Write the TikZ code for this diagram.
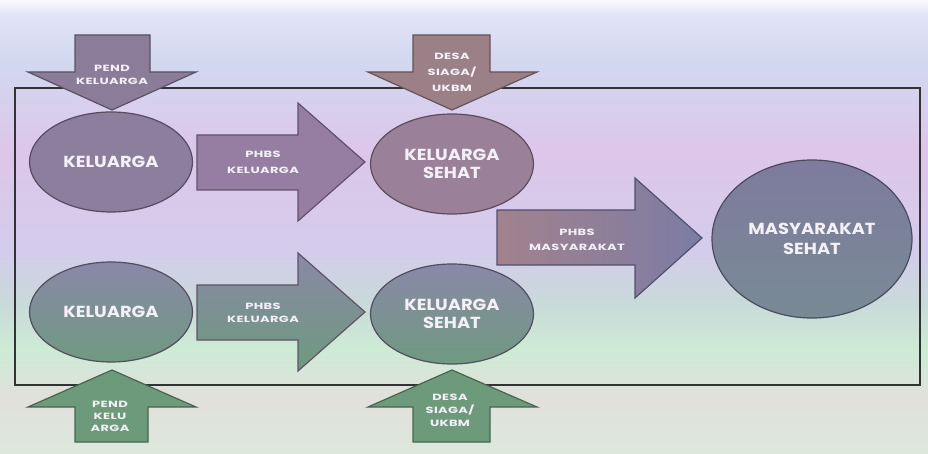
\documentclass[tikz,border=0pt]{standalone}
\usepackage{fontspec}
\setmainfont{Poppins}
\newfontfamily\labfont{Poppins}[FakeStretch=1.45, LetterSpace=4]
\newfontfamily\ellfont{Poppins}[FakeStretch=1.12]
\usetikzlibrary{shapes.geometric}
\definecolor{bgA}{HTML}{DCE8DC}
\definecolor{bgB}{HTML}{E2E0DC}
\definecolor{bgC}{HTML}{CDEBD5}
\definecolor{bgD}{HTML}{C9D9DA}
\definecolor{bgE}{HTML}{D4CCEC}
\definecolor{bgF}{HTML}{DDC6EA}
\definecolor{bgG}{HTML}{D2D8F0}
\definecolor{bgH}{HTML}{E2E4F6}
\definecolor{bgI}{HTML}{FAFAFC}
\pgfdeclareverticalshading{bgshade}{100bp}{
  color(0bp)=(bgA); color(25bp)=(bgA); color(30.95bp)=(bgB); color(36.45bp)=(bgC);
  color(41.95bp)=(bgD); color(47.45bp)=(bgE); color(58.5bp)=(bgF);
  color(68.4bp)=(bgG); color(73.35bp)=(bgH); color(75bp)=(bgI); color(100bp)=(bgI)}
\definecolor{txt}{HTML}{F4F0F8}
\definecolor{ellTop}{HTML}{8C7F9E}
\definecolor{ellTopB}{HTML}{9A8098}
\definecolor{ellBotT}{HTML}{8A88A8}
\definecolor{ellBotB}{HTML}{6F9A80}
\definecolor{ellMasT}{HTML}{7E7B9E}
\definecolor{ellMasB}{HTML}{788A94}
\definecolor{arPend}{HTML}{8B7C9A}
\definecolor{arDesa}{HTML}{9C8088}
\definecolor{arPhbs}{HTML}{957EA2}
\definecolor{arGreen}{HTML}{6E9A7C}
\definecolor{arMasL}{HTML}{A2828E}
\definecolor{arMasR}{HTML}{7C7CA4}
\tikzset{
  ellbox/.style={ellipse, minimum width=163pt, minimum height=100pt, inner sep=0pt,
    draw=black!40!#1, line width=1.2pt, fill=#1, text=txt, align=center,
    font=\ellfont\bfseries\fontsize{16}{18}\selectfont},
  arrowshape/.style={draw=black!35!#1, line width=1.2pt, fill=#1},
  lab/.style={text=txt, align=center, inner sep=0pt, font=\labfont\bfseries\fontsize{9}{13}\selectfont}
}
\begin{document}
\begin{tikzpicture}[x=1pt,y=-1pt]
\useasboundingbox (0,0) rectangle (928,454);
\shade[shading=bgshade] (0,0) rectangle (928,454);
% frame
\draw[line width=1.4pt, black!80] (15,88) rectangle (920,385);
% top down arrows
\path[arrowshape=arPend] (75,35) -- (150,35) -- (150,72) -- (196,72) -- (112,110) -- (28,72) -- (75,72) -- cycle;
\path[arrowshape=arDesa] (413,35) -- (490,35) -- (490,72) -- (537,72) -- (452,110) -- (368,72) -- (413,72) -- cycle;
% bottom up arrows
\path[arrowshape=arGreen] (75,442) -- (148,442) -- (148,407) -- (196,407) -- (112,370) -- (28,407) -- (75,407) -- cycle;
\path[arrowshape=arGreen] (413,442) -- (490,442) -- (490,407) -- (537,407) -- (452,370) -- (368,407) -- (413,407) -- cycle;
% horizontal arrows
\path[arrowshape=arPhbs] (197,135) -- (298,135) -- (298,103) -- (365,162) -- (298,221) -- (298,190) -- (197,190) -- cycle;
\path[draw=black!35!arPhbs, line width=1.2pt, top color=ellBotT, bottom color=arGreen] (197,285) -- (298,285) -- (298,253) -- (365,312) -- (298,371) -- (298,340) -- (197,340) -- cycle;
\path[draw=black!35!arMasR, line width=1.2pt, left color=arMasL, right color=arMasR] (497,210) -- (635,210) -- (635,178) -- (702,238) -- (635,298) -- (635,265) -- (497,265) -- cycle;
% ellipses
\node[ellbox=ellTop] (k1) at (111,162) {KELUARGA};
\node[ellbox=ellTopB] (s1) at (452,164) {KELUARGA\\SEHAT};
\node[ellbox=ellTop, fill=none, top color=ellBotT, bottom color=ellBotB] (k2) at (111,312) {KELUARGA};
\node[ellbox=ellTop, fill=none, top color=ellBotT, bottom color=ellBotB] (s2) at (452,314) {KELUARGA\\SEHAT};
\node[ellbox=ellMasT, minimum width=200pt, minimum height=158pt, top color=ellMasT, bottom color=ellMasB, font=\ellfont\bfseries\fontsize{16}{20}\selectfont] (ms) at (812,239) {MASYARAKAT\\SEHAT};
% labels
\node[lab] (lpend1) at (112,75) {PEND\\KELUARGA};
\node[lab, font=\labfont\bfseries\fontsize{9}{16}\selectfont] (ldesa1) at (452,72) {DESA\\SIAGA/\\UKBM};
\node[lab, font=\labfont\bfseries\fontsize{9}{16}\selectfont] (lphbs1) at (263,162) {PHBS\\KELUARGA};
\node[lab] (lphbs2) at (263,313) {PHBS\\KELUARGA};
\node[lab, font=\labfont\bfseries\fontsize{9}{15}\selectfont] (lphbs3) at (577,240) {PHBS\\MASYARAKAT};
\node[lab, font=\labfont\bfseries\fontsize{9}{12}\selectfont] (lpend2) at (110,416) {PEND\\KELU\\ARGA};
\node[lab] (ldesa2) at (450,410) {DESA\\SIAGA/\\UKBM};
\end{tikzpicture}
\end{document}
